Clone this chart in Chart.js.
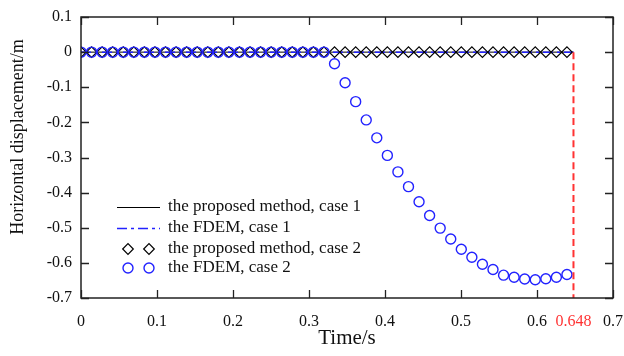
<!DOCTYPE html>
<html>
<head>
<meta charset="utf-8">
<script src="https://cdn.jsdelivr.net/npm/chart.js@4/dist/chart.umd.min.js"></script>
<style>
  body { margin: 0; background: #fff; }
  #wrap { width: 624px; height: 356px; }
</style>
</head>
<body>
<div id="wrap"><canvas id="myChart"></canvas></div>
<script>
// time steps (s)
var times = [0, 0.0139, 0.0278, 0.0417, 0.0556, 0.0695, 0.0834, 0.0973, 0.1112, 0.1251,
    0.139, 0.1529, 0.1668, 0.1807, 0.1946, 0.2085, 0.2224, 0.2363, 0.2502, 0.2641,
    0.278, 0.2919, 0.3058, 0.3197, 0.3336, 0.3475, 0.3614, 0.3753, 0.3892, 0.4031,
    0.417, 0.4309, 0.4448, 0.4587, 0.4726, 0.4865, 0.5004, 0.5143, 0.5282, 0.5421,
    0.556, 0.5699, 0.5838, 0.5977, 0.6116, 0.6255, 0.6394];
// the proposed method, case 2 (diamonds)
var proposedCase2 = [0, 0, 0, 0, 0, 0, 0, 0, 0, 0,
    0, 0, 0, 0, 0, 0, 0, 0, 0, 0,
    0, 0, 0, 0, 0, 0, 0, 0, 0, 0,
    0, 0, 0, 0, 0, 0, 0, 0, 0, 0,
    0, 0, 0, 0, 0, 0, 0];
// the FDEM, case 2 (circles)
var fdemCase2 = [0, 0, 0, 0, 0, 0, 0, 0, 0, 0,
    0, 0, 0, 0, 0, 0, 0, 0, 0, 0,
    0, 0, 0, 0, -0.033, -0.087, -0.141, -0.193, -0.244, -0.294,
    -0.341, -0.383, -0.426, -0.465, -0.501, -0.532, -0.561, -0.584, -0.604, -0.619,
    -0.635, -0.641, -0.646, -0.648, -0.645, -0.641, -0.633];
// case 1 lines (start / end)
var case1Times = [0, 0.648];
var proposedCase1 = [0, 0];
var fdemCase1 = [0, 0];
// failure time marker
var failTime = [0.648, 0.648];
var failDisp = [0, -0.7];

var xTicks = [0, 0.1, 0.2, 0.3, 0.4, 0.5, 0.6, 0.648, 0.7];
var yTicks = [0.1, 0, -0.1, -0.2, -0.3, -0.4, -0.5, -0.6, -0.7];

var black = '#000000';
var blue = '#2222ff';
var red = '#ff3333';
var serif = "'Liberation Serif', 'Times New Roman', serif";

function pts(xs, ys) {
    return xs.map(function (x, i) { return { x: x, y: ys[i] }; });
}

Chart.defaults.font.family = serif;
Chart.defaults.color = '#111';

// inward tick marks, frame, axis titles and the legend inside the plot
var decorPlugin = {
    id: 'decor',
    afterDraw: function (chart) {
        var ctx = chart.ctx;
        var a = chart.chartArea;
        var xs = chart.scales.x, ys = chart.scales.y;
        var len = 8;
        ctx.save();
        ctx.strokeStyle = '#222';
        ctx.lineWidth = 1.3;
        ctx.beginPath();
        xTicks.forEach(function (v) {
            if (v === 0.648) return;
            var px = Math.round(xs.getPixelForValue(v)) + 0.5;
            ctx.moveTo(px, a.bottom); ctx.lineTo(px, a.bottom - len);
            ctx.moveTo(px, a.top); ctx.lineTo(px, a.top + len);
        });
        yTicks.forEach(function (v) {
            var py = Math.round(ys.getPixelForValue(v)) + 0.5;
            ctx.moveTo(a.left, py); ctx.lineTo(a.left + len, py);
            ctx.moveTo(a.right, py); ctx.lineTo(a.right - len, py);
        });
        ctx.stroke();
        ctx.lineWidth = 1.5;
        ctx.strokeRect(a.left, a.top, a.right - a.left, a.bottom - a.top);

        // axis titles
        ctx.fillStyle = '#111';
        ctx.textAlign = 'center';
        ctx.textBaseline = 'middle';
        ctx.font = '21px ' + serif;
        ctx.fillText('Time/s', (a.left + a.right) / 2, 338);
        ctx.save();
        ctx.translate(18, 137);
        ctx.rotate(-Math.PI / 2);
        ctx.font = '18px ' + serif;
        ctx.fillText('Horizontal displacement/m', 0, 0);
        ctx.restore();

        // legend
        var lx = a.left + 36, lx2 = a.left + 79, tx = a.left + 87;
        var rows = [207, 228, 249, 268];
        ctx.font = '17px ' + serif;
        ctx.textAlign = 'left';
        chart.data.datasets.forEach(function (ds, i) {
            if (i > 3) return;
            var y = rows[i];
            if (ds.showLine) {
                ctx.save();
                ctx.strokeStyle = ds.borderColor;
                ctx.lineWidth = ds.borderWidth;
                ctx.setLineDash(ds.borderDash || []);
                ctx.beginPath();
                ctx.moveTo(lx, y + 0.5); ctx.lineTo(lx2, y + 0.5);
                ctx.stroke();
                ctx.restore();
            } else {
                [lx + 11, lx + 32].forEach(function (cx) {
                    ctx.save();
                    ctx.fillStyle = 'rgba(0,0,0,0)';
                    ctx.strokeStyle = ds.pointBorderColor;
                    ctx.lineWidth = ds.pointBorderWidth;
                    Chart.helpers.drawPoint(ctx, {
                        pointStyle: ds.pointStyle, radius: ds.pointRadius,
                        borderWidth: ds.pointBorderWidth, rotation: 0
                    }, cx, y);
                    ctx.restore();
                });
                ctx.fillStyle = '#111';
            }
            ctx.fillText(ds.label, tx, y);
        });
        ctx.restore();
    }
};

var ctx = document.getElementById('myChart').getContext('2d');
var myChart = new Chart(ctx, {
    type: 'scatter',
    data: {
        datasets: [{
            label: 'the proposed method, case 1',
            data: pts(case1Times, proposedCase1),
            showLine: true,
            borderColor: black,
            borderWidth: 1,
            pointRadius: 0,
            order: 4
        }, {
            label: 'the FDEM, case 1',
            data: pts(case1Times, fdemCase1),
            showLine: true,
            borderColor: blue,
            borderWidth: 1.5,
            borderDash: [10, 4, 3, 4],
            pointRadius: 0,
            order: 3
        }, {
            label: 'the proposed method, case 2',
            data: pts(times, proposedCase2),
            showLine: false,
            pointStyle: 'rectRot',
            pointRadius: 5.3,
            pointBorderWidth: 1.2,
            pointBorderColor: black,
            pointBackgroundColor: 'rgba(0,0,0,0)',
            order: 2
        }, {
            label: 'the FDEM, case 2',
            data: pts(times, fdemCase2),
            showLine: false,
            pointStyle: 'circle',
            pointRadius: 5,
            pointBorderWidth: 1.4,
            pointBorderColor: blue,
            pointBackgroundColor: 'rgba(0,0,0,0)',
            order: 1
        }, {
            label: 'failure',
            data: pts(failTime, failDisp),
            showLine: true,
            borderColor: red,
            borderWidth: 2,
            borderDash: [7, 4],
            pointRadius: 0,
            order: 0
        }]
    },
    options: {
        responsive: true,
        maintainAspectRatio: false,
        animation: false,
        layout: { padding: { top: 17, right: 11, left: 0, bottom: 0 } },
        plugins: {
            legend: { display: false },
            tooltip: { enabled: false }
        },
        scales: {
            x: {
                type: 'linear',
                min: 0,
                max: 0.7,
                grid: { display: false },
                border: { display: false },
                afterBuildTicks: function (scale) {
                    scale.ticks = xTicks.map(function (v) { return { value: v }; });
                },
                afterFit: function (scale) {
                    scale.height = 58;
                    scale.paddingLeft = 0;
                    scale.paddingRight = 0;
                },
                ticks: {
                    autoSkip: false,
                    maxRotation: 0,
                    padding: 6,
                    font: { size: 16 },
                    color: function (c) { return c.tick && c.tick.value === 0.648 ? red : '#111'; },
                    callback: function (v) { return String(+v.toFixed(3)); }
                }
            },
            y: {
                min: -0.7,
                max: 0.1,
                grid: { display: false, drawTicks: false },
                border: { display: false },
                afterBuildTicks: function (scale) {
                    scale.ticks = yTicks.map(function (v) { return { value: v }; });
                },
                afterFit: function (scale) {
                    scale.width = 81;
                    scale.paddingTop = 0;
                    scale.paddingBottom = 0;
                },
                ticks: {
                    padding: 9,
                    font: { size: 16 },
                    callback: function (v) { return String(+v.toFixed(1)); }
                }
            }
        }
    },
    plugins: [decorPlugin]
});
</script>
</body>
</html>
